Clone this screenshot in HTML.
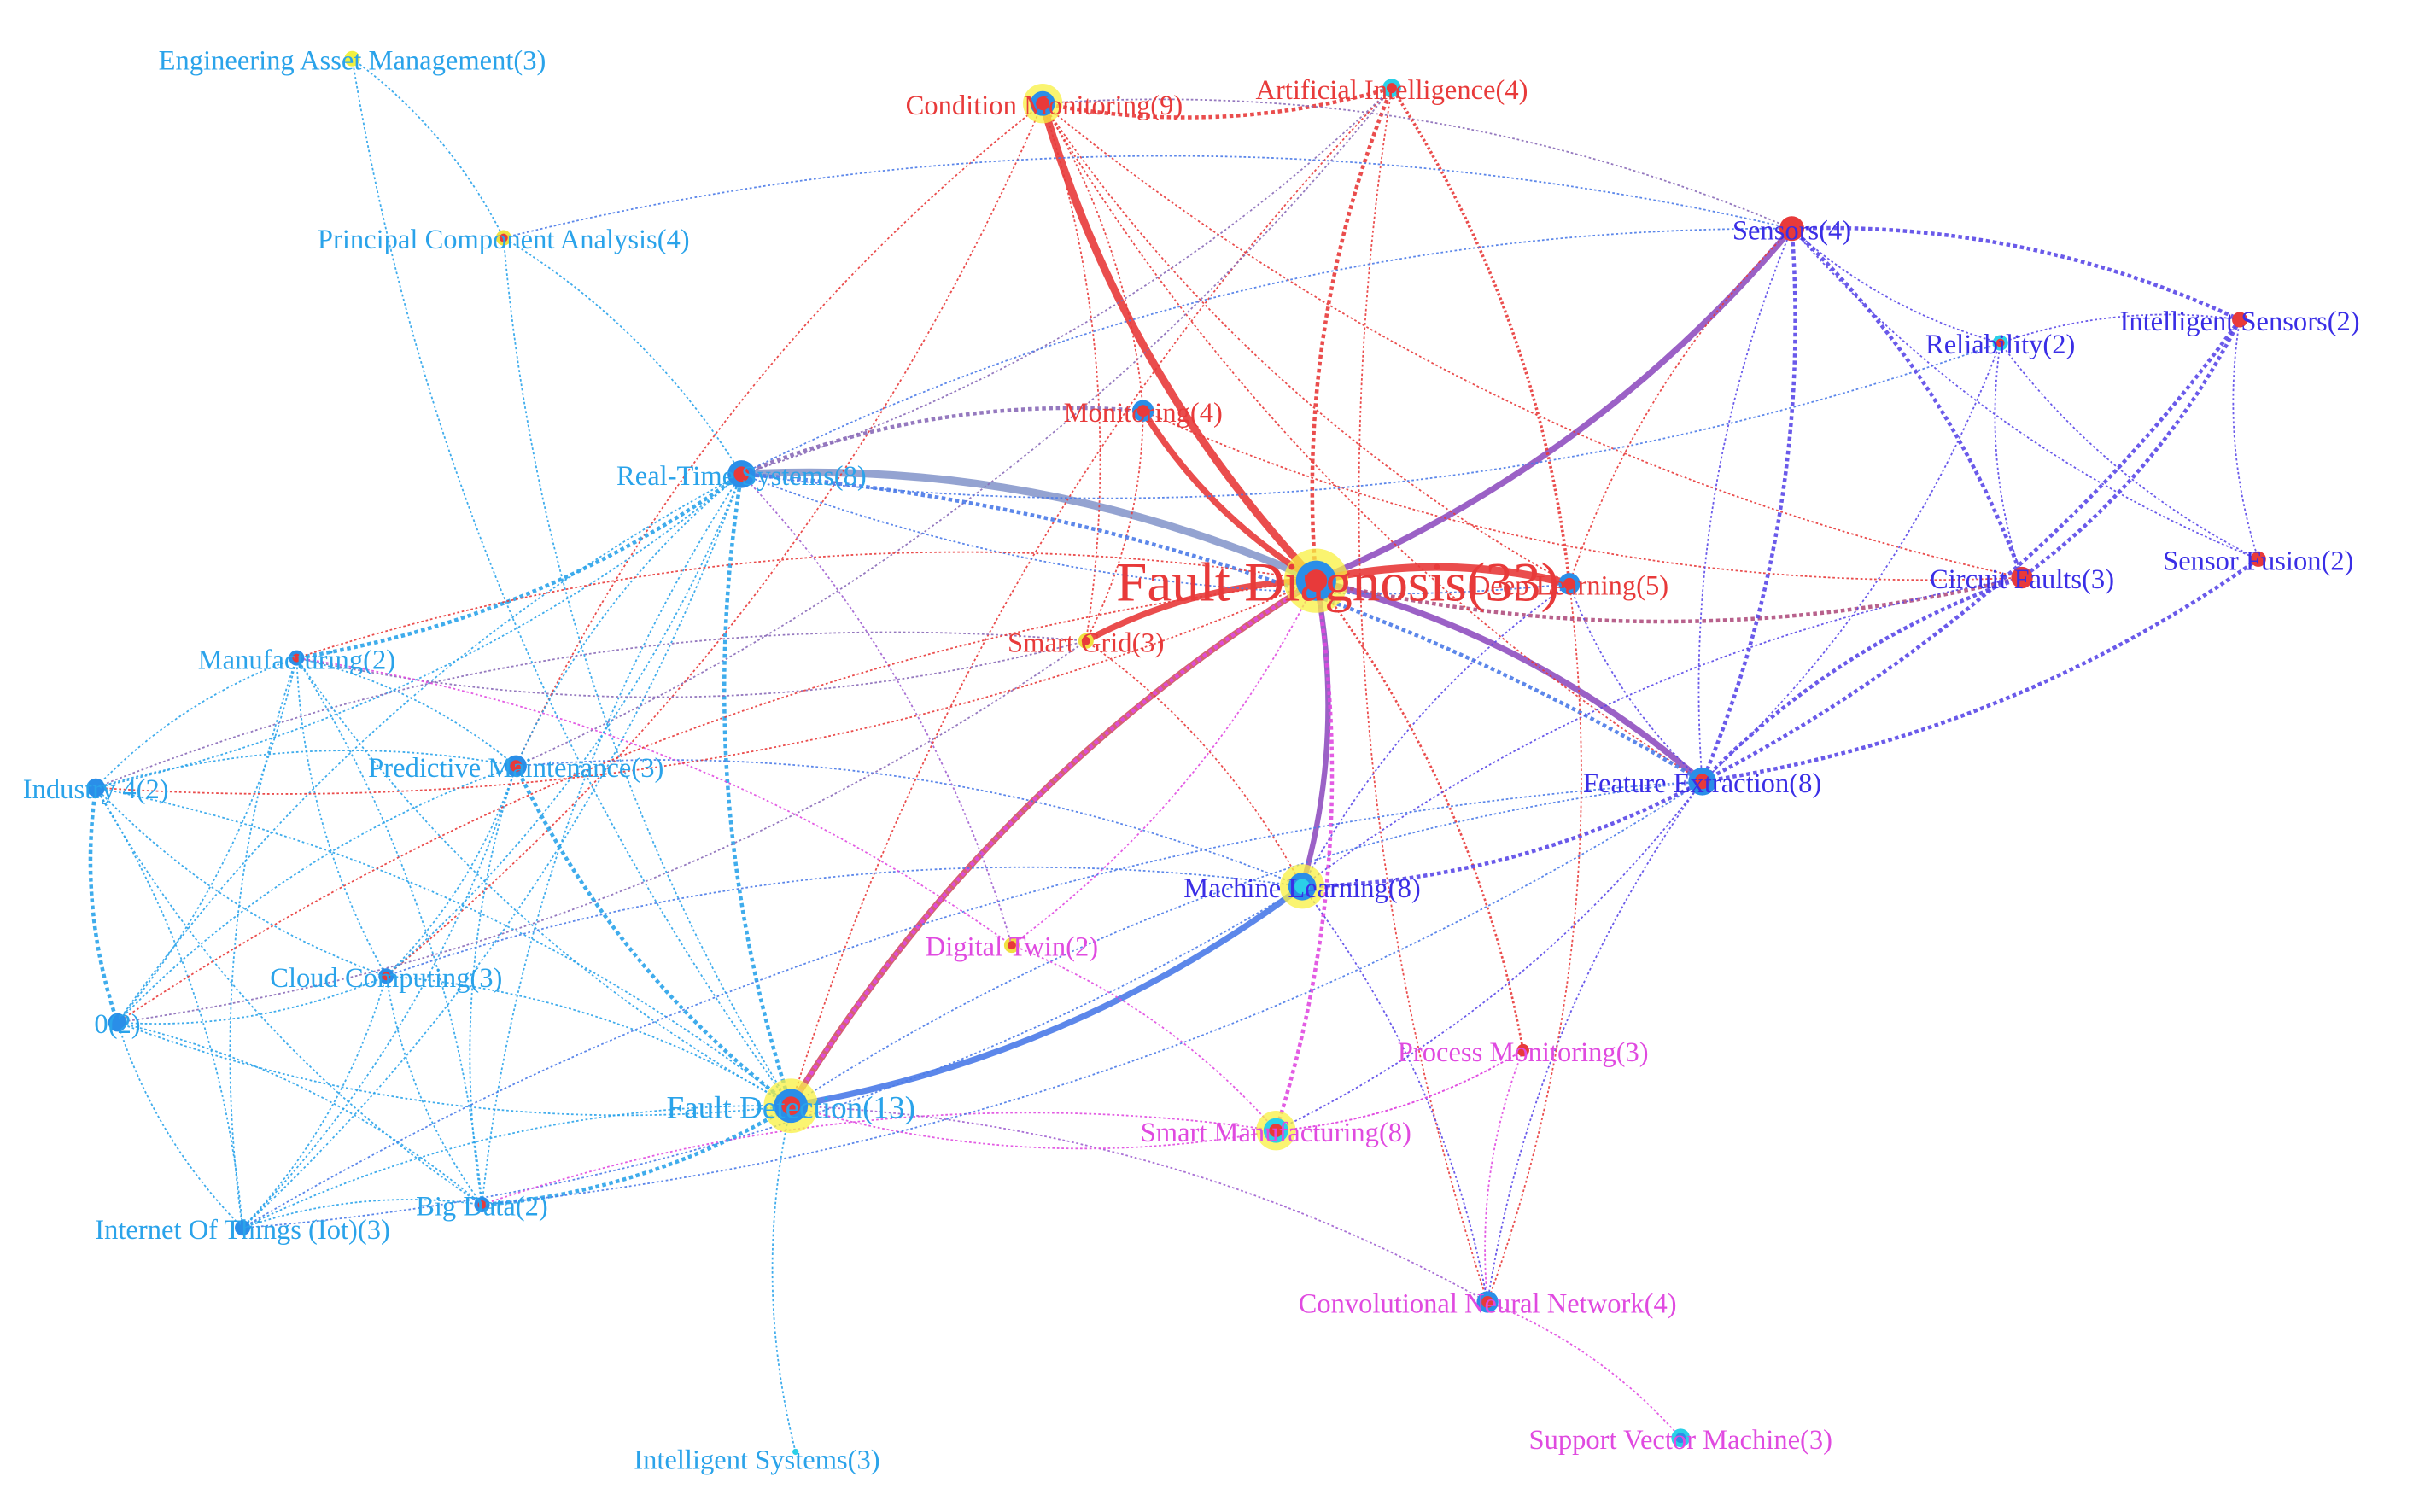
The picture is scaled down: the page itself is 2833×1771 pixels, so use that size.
<!DOCTYPE html>
<html><head><meta charset="utf-8">
<style>
html,body{margin:0;padding:0;background:#fff;width:2833px;height:1771px;overflow:hidden}
svg{display:block}
text{font-family:"Liberation Serif",serif;font-size:18px}
</style></head>
<body>
<svg id="s" width="2833" height="1771" viewBox="0 0 1566 979" xmlns="http://www.w3.org/2000/svg">
<g id="edges" fill="none"></g>
<g id="nodes"></g>
<g id="labels"></g>
</svg>
<script>
var N={
FD:[852,376],CM:[675,67],AI:[901,57],SE:[1160,148],IS:[1450,207],RE:[1295,222],MO:[740,266],
RT:[480,307],DL:[1016,378],CF:[1309,374],SF:[1462,362],SG:[703,415],MA:[192,426],FE:[1102,506],
I4:[62,510],PM:[334,496],ML:[843,574],DT:[655,612],CC:[250,632],Z:[76,662],PR:[986,680],
FT:[512,716],SM:[826,732],BD:[312,780],IOT:[157,795],CNN:[963,843],SVM:[1088,931],ISY:[515,940],
EAM:[228,38],PCA:[326,154]};
var B="#2aa3ea",R="#e83a3a",P="#5a48e8",M="#e04ae0",RB="#8a6ab8",PB="#4a7ae8";
var E=[
["FD","CM",R,5,0],["FD","RT","#8899cc",5,0],["FD","MO",R,4,0],["FD","SE","#9050c0",4,0],["FD","FE","#9050c0",4,0],
["FD","FT","#d05060",4,0],["FD","ML","#9050c0",3.5,0],["FD","SG",R,4,0],["FD","DL",R,5,0],["FT","ML",PB,4,0],
["FD","AI",R,2.5,1],["FD","CF","#b05080",2.5,1],["FD","SM",M,2.5,1],["FD","FT",M,2.5,1],["FD","PR",R,1.5,1],
["CM","AI",R,2.5,1],["CM","MO",R,1,1],["CM","DL",R,1,1],["CM","SE",RB,1,1],["CM","CF",R,1,1],["CM","SG",R,1,1],
["CM","PM",R,1,1],["CM","CC",R,1,1],["CM","FE",R,1,1],["AI","DL",R,2,1],["AI","FT",R,1,1],["AI","RT",RB,1,1],
["AI","CNN",R,1,1],["AI","PM",RB,1,1],["MO","RT",RB,2.5,1],["MO","SG",R,1,1],["MO","CF",R,1,1],
["RT","SE",PB,1,1],["RT","DL",PB,1,1],["RT","FE",PB,2.5,1],["RT","FT",B,2.5,1],["RT","MA",B,2.5,1],
["RT","PCA",B,1,1],["RT","I4",B,1,1],["RT","PM",B,1,1],["RT","CC",B,1,1],["RT","Z",B,1,1],["RT","IOT",B,1,1],
["RT","BD",B,1,1],["RT","DT","#a060d0",1,1],["RT","RE",PB,1,1],
["SE","IS",P,2.5,1],["SE","RE",P,1,1],["SE","CF",P,2.5,1],["SE","SF",P,1,1],["SE","FE",P,2.5,1],["SE","PCA",PB,1,1],
["RE","FE",P,1,1],["RE","CF",P,1,1],["RE","IS",P,1,1],["RE","SF",P,1,1],["IS","FE",P,2.5,1],["IS","SF",P,1,1],["IS","CF",P,2.5,1],
["CF","FE",P,2.5,1],["SF","FE",P,2.5,1],["CF","ML",P,1,1],["FE","ML",P,2.5,1],["FE","CNN",P,1,1],["FE","SM",P,1,1],
["FE","FT",PB,1,1],["FE","SE",P,1,1],["DL","ML",P,1,1],["DL","CNN",R,1,1],["DL","FE",P,1,1],["DL","SE",R,1,1],
["ML","PM",PB,1,1],["ML","CNN",P,1,1],["ML","CC",PB,1,1],["ML","IOT",PB,1,1],["ML","SG",R,1,1],
["SG","MA",RB,1,1],["SG","I4",RB,1,1],["SG","Z",RB,1,1],["DT","MA",M,1,1],["DT","SM",M,1,1],["DT","FD",M,1,1],
["PR","SM",M,1,1],["PR","CNN",M,1,1],["CNN","SVM",M,1,1],["CNN","FT","#a060d0",1,1],["SM","FT",M,1,1],["SM","BD",M,1,1],
["FT","MA",B,1,1],["FT","I4",B,1,1],["FT","PM",B,2.5,1],["FT","CC",B,1,1],["FT","Z",B,1,1],["FT","IOT",B,1,1],["FT","BD",B,2.5,1],
["FT","ISY",B,1,1],["FT","PCA",B,1,1],["MA","I4",B,1,1],["MA","PM",B,1,1],["MA","CC",B,1,1],["MA","BD",B,1,1],["MA","IOT",B,1,1],["MA","Z",B,1,1],
["I4","Z",B,2.5,1],["I4","PM",B,1,1],["I4","CC",B,1,1],["I4","IOT",B,1,1],["I4","BD",B,1,1],["PM","CC",B,1,1],["PM","BD",B,1,1],
["PM","IOT",B,1,1],["PM","Z",B,1,1],["CC","Z",B,1,1],["CC","BD",B,1,1],["CC","IOT",B,1,1],["Z","IOT",B,1,1],["Z","BD",B,1,1],
["BD","IOT",B,1,1],["EAM","PCA",B,1,1],["EAM","FT",B,1,1],["MA","FD",R,1,1],["I4","FD",R,1,1],["Z","FD",R,1,1],
["BD","FE",PB,1,1],["IOT","FE",PB,1,1],["SM","PR",M,1,1]];
var g=document.getElementById('edges'),s='';
E.forEach(function(e,i){var a=N[e[0]],b=N[e[1]];if(!a||!b)return;
var mx=(a[0]+b[0])/2,my=(a[1]+b[1])/2,dx=b[0]-a[0],dy=b[1]-a[1],k=(i%2?0.12:-0.12);
var cx=mx-dy*k,cy=my+dx*k;
var da=e[4]?' stroke-dasharray="'+(e[3]>2?'2.5 2':'1.5 1.5')+'"':'';
s+='<path d="M'+a[0]+' '+a[1]+' Q'+cx+' '+cy+' '+b[0]+' '+b[1]+'" stroke="'+e[2]+'" stroke-width="'+e[3]+'" stroke-opacity="0.9"'+da+'/>';});
g.innerHTML=s;
var ND=[["FD",13,"#2a8ee8",R,1],["CM",8,"#2a8ee8",R,1],["AI",6,"#2ad0e8",R,0],["SE",8,R,R,0],["IS",5,R,R,0],["RE",5,"#2ad0e8",R,0],
["MO",7,"#2a8ee8",R,0],["RT",9,"#2a8ee8",R,0],["DL",7,"#2a8ee8",R,0],["CF",7,R,R,0],["SF",5,R,R,0],["SG",5,"#f0e040",R,0],
["MA",5,"#2a8ee8",R,0],["FE",9,"#2a8ee8",R,0],["I4",6,"#2a8ee8","#2a8ee8",0],["PM",7,"#2a8ee8",R,0],["ML",9,"#2a8ee8","#2ad0e8",1],
["DT",5,"#f0e040",R,0],["CC",5,"#2a8ee8",R,0],["Z",6,"#2a8ee8","#2a8ee8",0],["PR",4,R,R,0],["FT",11,"#2a8ee8",R,1],
["SM",8,"#2ad0e8",R,1],["BD",5,"#2a8ee8",R,0],["IOT",5,"#2a8ee8","#2a8ee8",0],["CNN",7,"#2a8ee8",R,0],["SVM",6,"#2ad0e8","#2a8ee8",0],
["ISY",2,"#2ad0e8","#2ad0e8",0],["EAM",5,"#f0f040","#f0f040",0],["PCA",5,"#f0e040",R,0]];
s='';ND.forEach(function(n){var p=N[n[0]];
if(n[4])s+='<circle cx="'+p[0]+'" cy="'+p[1]+'" r="'+(n[1]*1.6)+'" fill="#f8f040" opacity="0.75"/>';
s+='<circle cx="'+p[0]+'" cy="'+p[1]+'" r="'+n[1]+'" fill="'+n[2]+'"/>';
s+='<circle cx="'+p[0]+'" cy="'+p[1]+'" r="'+(n[1]*0.55)+'" fill="'+n[3]+'"/>';});
document.getElementById('nodes').innerHTML=s;
var LB=[["Fault Diagnosis(33)",866,389,R,36],["Condition Monitoring(9)",676,74,R],["Artificial Intelligence(4)",901,64,R],
["Sensors(4)",1160,155,"#3a2ee6"],["Intelligent Sensors(2)",1450,214,"#3a2ee6"],["Reliability(2)",1295,229,"#3a2ee6"],
["Monitoring(4)",740,273,R],["Real-Time Systems(8)",480,314,B],["Deep Learning(5)",1016,385,R],["Circuit Faults(3)",1309,381,"#3a2ee6"],
["Sensor Fusion(2)",1462,369,"#3a2ee6"],["Smart Grid(3)",703,422,R],["Manufacturing(2)",192,433,B],["Feature Extraction(8)",1102,513,"#3a2ee6"],
["Industry 4(2)",62,517,B],["Predictive Maintenance(3)",334,503,B],["Machine Learning(8)",843,581,"#3a2ee6"],["Digital Twin(2)",655,619,M],
["Cloud Computing(3)",250,639,B],["0(2)",76,669,B],["Process Monitoring(3)",986,687,M],["Fault Detection(13)",512,724,B,20.5],
["Smart Manufacturing(8)",826,739,M],["Big Data(2)",312,787,B],["Internet Of Things (Iot)(3)",157,802,B],
["Convolutional Neural Network(4)",963,850,M],["Support Vector Machine(3)",1088,938,M],["Intelligent Systems(3)",490,951,B],
["Engineering Asset Management(3)",228,45,B],["Principal Component Analysis(4)",326,161,B]];
s='';LB.forEach(function(l){s+='<text x="'+l[1]+'" y="'+l[2]+'" fill="'+l[3]+'" text-anchor="middle"'+(l[4]?' style="font-size:'+l[4]+'px"':'')+'>'+l[0]+'</text>';});
document.getElementById('labels').innerHTML=s;
</script>
</body></html>
